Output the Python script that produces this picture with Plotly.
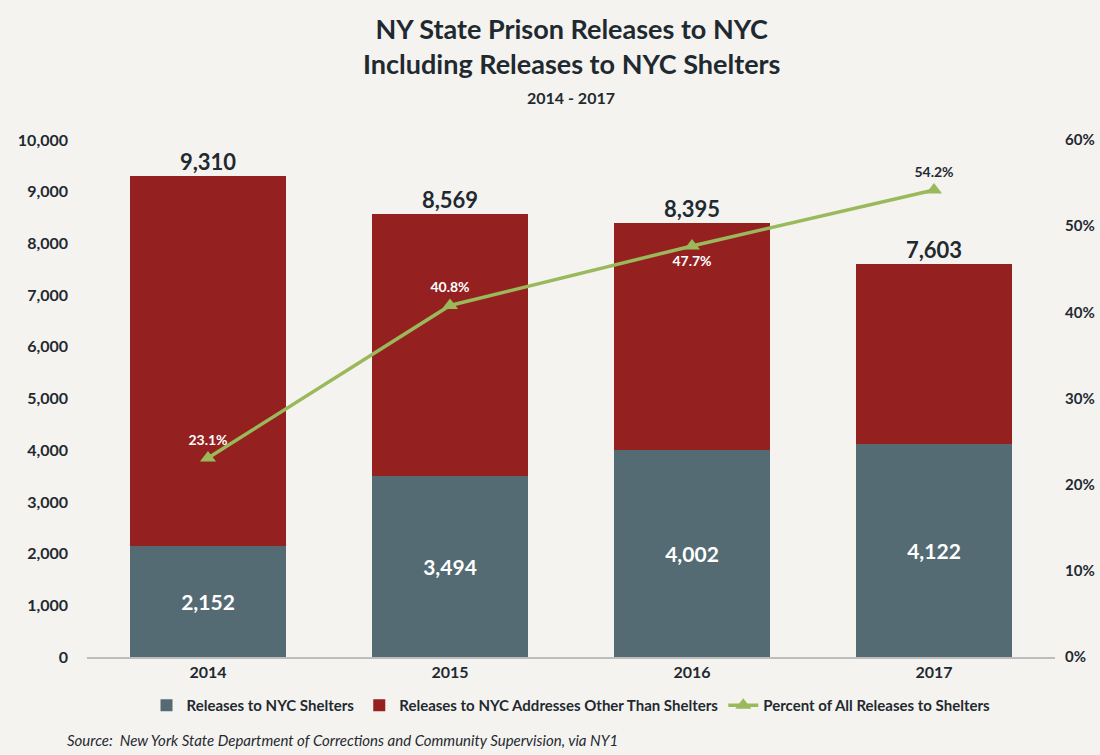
import plotly.graph_objects as go

years = ["2014", "2015", "2016", "2017"]
shelters = [2152, 3494, 4002, 4122]
other = [7158, 5075, 4393, 3481]
totals = [9310, 8569, 8395, 7603]
pct_shelters = [23.1, 40.8, 47.7, 54.2]

left_ticks = [0, 1000, 2000, 3000, 4000, 5000, 6000, 7000, 8000, 9000, 10000]
right_ticks = [0, 10, 20, 30, 40, 50, 60]

GREY = "#546b73"
RED = "#952020"
GREEN = "#9ab95a"
TEXT = "#1f2a30"
BG = "#f5f3f0"
FONT = "Lato"

fig = go.Figure()

fig.add_trace(go.Bar(
    x=years, y=shelters, name="Releases to NYC Shelters",
    marker_color=GREY, marker_line_width=0,
    text=[f"{v:,}" for v in shelters], textposition="inside",
    insidetextanchor="middle",
    textfont=dict(family=FONT, size=21, color="white", weight="bold"),
))
fig.add_trace(go.Bar(
    x=years, y=other, name="Releases to NYC Addresses Other Than Shelters",
    marker_color=RED, marker_line_width=0,
))
# totals above each stacked bar
fig.add_trace(go.Scatter(
    x=years, y=totals, mode="text", showlegend=False, hoverinfo="skip",
    text=[f"{v:,}" for v in totals], textposition="top center", cliponaxis=False,
    textfont=dict(family=FONT, size=22, color=TEXT, weight="bold"),
))
fig.add_trace(go.Scatter(
    x=years, y=pct_shelters, yaxis="y2", name="Percent of All Releases to Shelters",
    mode="lines+markers+text", cliponaxis=False,
    line=dict(color=GREEN, width=3.5),
    marker=dict(symbol="triangle-up", size=14, color=GREEN),
    text=[f"{v}%" for v in pct_shelters],
    textposition=["top center", "top center", "bottom center", "top center"],
    textfont=dict(family=FONT, size=14, color=["white", "white", "white", TEXT], weight="bold"),
))

fig.add_annotation(
    xref="paper", yref="paper", x=0.5, y=1.0, yshift=130, yanchor="top",
    text="<b>NY State Prison Releases to NYC<br>Including Releases to NYC Shelters</b>",
    showarrow=False, font=dict(family=FONT, size=27, color=TEXT),
)
fig.add_annotation(
    xref="paper", yref="paper", x=0.5, y=1.0, yshift=54, yanchor="top",
    text="<b>2014 - 2017</b>", showarrow=False, font=dict(family=FONT, size=16, color=TEXT),
)
fig.add_annotation(
    xref="paper", yref="paper", x=0, xshift=-22, y=0, yshift=-72, xanchor="left", yanchor="top",
    text="<i>Source:  New York State Department of Corrections and Community Supervision, via NY1</i>",
    showarrow=False, font=dict(family=FONT, size=15, color=TEXT),
)

fig.update_layout(
    barmode="stack", bargap=0.355,
    width=1100, height=755,
    margin=dict(l=87, r=45, t=140, b=98),
    paper_bgcolor=BG, plot_bgcolor=BG,
    font=dict(family=FONT, color=TEXT),
    showlegend=True,
    legend=dict(
        orientation="h", x=0.5, xanchor="center", y=-0.062, yanchor="top",
        traceorder="normal",
        font=dict(family=FONT, size=15, color=TEXT, weight="bold"),
        bgcolor="rgba(0,0,0,0)",
    ),
    xaxis=dict(
        type="category", categoryorder="array", categoryarray=years,
        range=[-0.5, 3.5], autorange=False, automargin=False,
        showgrid=False, showline=True, linecolor="#bdbdbd", linewidth=2,
        tickfont=dict(family=FONT, size=16, color=TEXT, weight="bold"),
    ),
    yaxis=dict(
        range=[0, 10000], tickvals=left_ticks, tickformat=",", showgrid=False,
        zeroline=False, showline=False, ticks="", automargin=False,
        tickfont=dict(family=FONT, size=16, color=TEXT, weight="bold"),
        ticklabelstandoff=18,
    ),
    yaxis2=dict(
        overlaying="y", side="right", range=[0, 60], tickvals=right_ticks,
        ticktext=[f"{v}%" for v in right_ticks], automargin=False,
        showgrid=False, zeroline=False, showline=False, ticks="",
        tickfont=dict(family=FONT, size=15, color=TEXT, weight="bold"),
        ticklabelstandoff=9,
    ),
)

# drop the default body margin so the 1100x755 figure fills the window
fig.write_html(
    "out.html",
    config={"displayModeBar": False},
    post_script="document.body.style.margin = '0';",
)
